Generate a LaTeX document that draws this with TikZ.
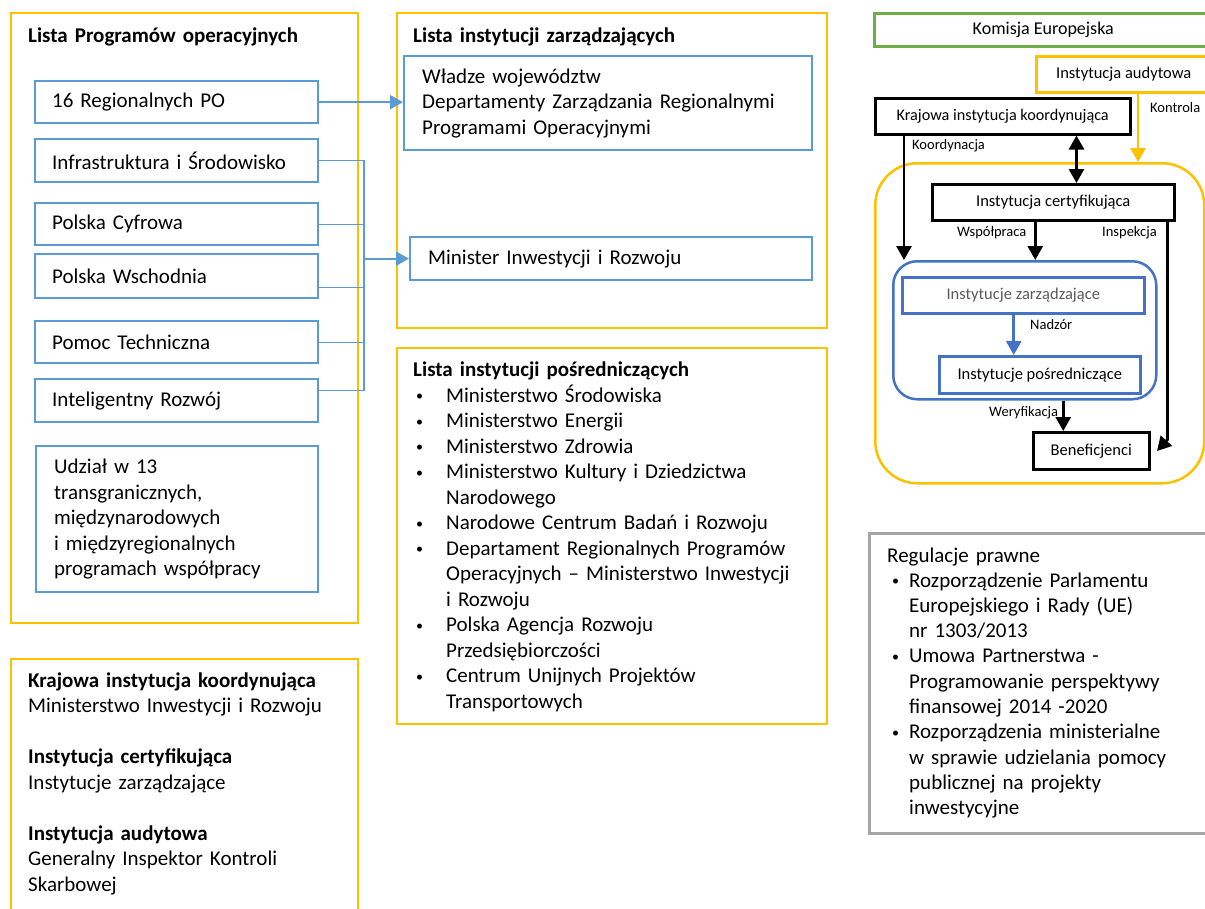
\documentclass[tikz,border=0pt]{standalone}
\usepackage{fontspec}
\setmainfont{Carlito}
\usetikzlibrary{arrows.meta,positioning,calc}
\definecolor{ppyellow}{HTML}{FFC000}
\definecolor{ppblue}{HTML}{5B9BD5}
\definecolor{ppdblue}{HTML}{4472C4}
\definecolor{ppgreen}{HTML}{70AD47}
\definecolor{ppgray}{HTML}{A5A5A5}
\definecolor{pptext}{HTML}{595959}
\newcommand\bigfs{\fontsize{21}{25.5}\selectfont}
\newcommand\midfs{\fontsize{16.5}{20}\selectfont}
\newcommand\smallfs{\fontsize{14.5}{17}\selectfont}
\newcommand\blt[1]{\leavevmode\llap{\makebox[#1][l]{\raisebox{1.5pt}{\fontsize{14}{14}\selectfont\textbullet}}}}
\tikzset{
yframe/.style = {draw=ppyellow, line width=2.3pt, anchor=north west, inner sep=0pt},
pbox/.style   = {draw=ppblue, line width=2.3pt, anchor=north west, align=left, text width=249pt, inner xsep=17pt, inner ysep=0pt, minimum height=43pt, font=\bigfs},
dbox/.style   = {draw, line width=2.5pt, anchor=north west, inner sep=0pt, font=\midfs},
lbl/.style    = {anchor=base west, inner sep=0pt, font=\smallfs},
txt/.style    = {anchor=base west, inner sep=0pt, align=left, text width=380pt, font=\bigfs},
link/.style   = {draw=ppblue, line width=1.2pt},
arr/.style    = {->, line width=2.8pt},
tmp/.style    = {coordinate}
}
\begin{document}
\begin{tikzpicture}[x=1pt, y=-1pt, >={Triangle[length=14pt,width=15pt]}]
  \useasboundingbox (0,0) rectangle (1205,908);

  \node [yframe, minimum width=347pt, minimum height=610pt]    (progs)      at (10,12)   {};
  \node [txt, font=\bigfs\bfseries]                            (progstitle) at (28,42)   {Lista Programów operacyjnych};
  \node [pbox, minimum height=42pt]                            (reg)        at (34,80)   {16 Regionalnych PO};
  \node [pbox]                                                 (infra)      at (34,138)  {Infrastruktura i Środowisko};
  \node [pbox, minimum height=42pt]                            (cyfr)       at (34,202)  {Polska Cyfrowa};
  \node [pbox, minimum height=44pt]                            (wsch)       at (34,253)  {Polska Wschodnia};
  \node [pbox, minimum height=42pt]                            (pomoc)      at (34,320)  {Pomoc Techniczna};
  \node [pbox]                                                 (intel)      at (34,378)  {Inteligentny Rozwój};
  \node [pbox, minimum height=146pt, text width=246pt, inner xsep=18pt] (udzial) at (35,445)
        {Udział w 13\\transgranicznych,\\międzynarodowych\\i międzyregionalnych\\programach współpracy};

  \node [yframe, minimum width=430pt, minimum height=315pt]    (zarz)       at (396,12)  {};
  \node [txt, font=\bigfs\bfseries]                            (zarztitle)  at (413,42)  {Lista instytucji zarządzających};
  \node [pbox, text width=372pt, inner xsep=18pt, minimum height=94pt] (wladze) at (403,55)
        {Władze województw\\Departamenty Zarządzania Regionalnymi\\Programami Operacyjnymi};
  \node [pbox, text width=366pt, inner xsep=18pt]              (minister)   at (409,236) {Minister Inwestycji i Rozwoju};

  \node [yframe, minimum width=430pt, minimum height=376pt]    (posr)       at (396,347) {};
  \node [txt, font=\bigfs\bfseries]                            (posrtitle)  at (413,376) {Lista instytucji pośredniczących};
  \node [txt]                                                  (posrlist)   at (446,402)
        {\blt{30pt}Ministerstwo Środowiska\\
         \blt{30pt}Ministerstwo Energii\\
         \blt{30pt}Ministerstwo Zdrowia\\
         \blt{30pt}Ministerstwo Kultury i Dziedzictwa\\
         Narodowego\\
         \blt{30pt}Narodowe Centrum Badań i Rozwoju\\
         \blt{30pt}Departament Regionalnych Programów\\
         Operacyjnych – Ministerstwo Inwestycji\\
         i Rozwoju\\
         \blt{30pt}Polska Agencja Rozwoju\\
         Przedsiębiorczości\\
         \blt{30pt}Centrum Unijnych Projektów\\
         Transportowych};

  \node [yframe, minimum width=347pt, minimum height=280pt]    (role)       at (10,658)  {};
  \node [txt]                                                  (roletext)   at (28,687)
        {\textbf{Krajowa instytucja koordynująca}\\
         Ministerstwo Inwestycji i Rozwoju\\[25.5pt]
         \textbf{Instytucja certyfikująca}\\
         Instytucje zarządzające\\[25.5pt]
         \textbf{Instytucja audytowa}\\
         Generalny Inspektor Kontroli\\
         Skarbowej};

  \node [dbox, draw=ppgreen, font=\fontsize{18}{21}\selectfont, minimum width=338pt, minimum height=33pt] (ke) at (873,12) {Komisja Europejska};
  \node [dbox, draw=ppyellow, minimum width=175pt, minimum height=36pt] (audyt)  at (1035,55) {Instytucja audytowa};
  \node [dbox, font=\fontsize{16.2}{19}\selectfont, minimum width=255pt, minimum height=36pt] (kic) at (874,97) {Krajowa instytucja koordynująca};
  \node [dbox, draw=ppyellow, rounded corners=42pt, minimum width=329pt, minimum height=320pt] (ramy) at (874,162) {};
  \node [dbox, minimum width=242pt, minimum height=36pt]                (cert)   at (931,183) {Instytucja certyfikująca};
  \node [dbox, draw=ppdblue, rounded corners=24pt, minimum width=263pt, minimum height=138pt] (zgrp) at (892,260) {};
  \node [dbox, draw=ppdblue, text=pptext, minimum width=242pt, minimum height=36pt] (iz) at (901,276) {Instytucje zarządzające};
  \node [dbox, draw=ppdblue, minimum width=201pt, minimum height=37pt]  (ip)     at (938,355) {Instytucje pośredniczące};
  \node [dbox, minimum width=116pt, minimum height=37pt]                (benef)  at (1032,431) {Beneficjenci};

  \node [lbl] (kontrola) at (1150,112) {Kontrola};
  \node [lbl] (koord)    at (912,149)  {Koordynacja};
  \node [lbl] (wspol)    at (957,236)  {Współpraca};
  \node [lbl] (insp)     at (1102,236) {Inspekcja};
  \node [lbl] (nadzor)   at (1030,329) {Nadzór};
  \node [lbl] (weryf)    at (989,416)  {Weryfikacja};

  \node [dbox, draw=ppgray, minimum width=350pt, minimum height=300pt] (prawo) at (868,532) {};
  \node [txt]                                                  (prawotitle) at (887,562) {Regulacje prawne};
  \node [txt, font=\fontsize{21}{25.3}\selectfont]             (prawolist)  at (909,587)
        {\blt{17pt}Rozporządzenie Parlamentu\\
         Europejskiego i Rady (UE)\\
         nr 1303/2013\\
         \blt{17pt}Umowa Partnerstwa -\\
         Programowanie perspektywy\\
         finansowej 2014 -2020\\
         \blt{17pt}Rozporządzenia ministerialne\\
         w sprawie udzielania pomocy\\
         publicznej na projekty\\
         inwestycyjne};

  \node [tmp] (bus)      at (364,159) {};
  \node [tmp] (wschout)  at ([yshift=-11pt]wsch.east) {};
  \node [tmp] (intelout) at ([yshift=10.5pt]intel.east) {};
  \node [tmp] (koordtop) at ([xshift=30pt]kic.south west) {};
  \node [tmp] (dbltop)   at ([xshift=-55pt]kic.south east) {};
  \node [tmp] (wspoltop) at ([xshift=-18pt]cert.south) {};
  \node [tmp] (insptop)  at ([xshift=-8pt]cert.south east) {};
  \node [tmp] (inspend)  at (1157,451) {};
  \node [tmp] (nadztop)  at ([xshift=-9.5pt]iz.south) {};
  \node [tmp] (weryfx)   at ([xshift=-28pt]benef.north) {};
  \node [tmp] (kontx)    at ([xshift=103pt]audyt.south west) {};

  \draw [->, >={Triangle[length=13pt,width=14pt]}, ppblue, line width=2.3pt] (reg.east) -- (reg.east -| wladze.west);
  \draw [link] (infra.east) -| (bus |- intelout) -- (intelout);
  \draw [link] (cyfr.east) -- (cyfr.east -| bus);
  \draw [link] (wschout) -- (wschout -| bus);
  \draw [link] (pomoc.east) -- (pomoc.east -| bus);
  \draw [->, >={Triangle[length=13pt,width=14pt]}, ppblue, line width=2.3pt] (minister.west -| bus) -- (minister.west);

  \draw [arr, ppyellow] (kontx) -- (kontx |- ramy.north);
  \draw [arr] (koordtop) -- (koordtop |- zgrp.north);
  \draw [arr, <->] (dbltop) -- (dbltop |- cert.north);
  \draw [arr] (wspoltop) -- (wspoltop |- zgrp.north);
  \draw [arr] (insptop) -- ++(0,218) -- (inspend);
  \draw [arr, ppdblue] (nadztop) -- (nadztop |- ip.north);
  \draw [arr] (weryfx |- zgrp.south) -- (weryfx);
\end{tikzpicture}
\end{document}
